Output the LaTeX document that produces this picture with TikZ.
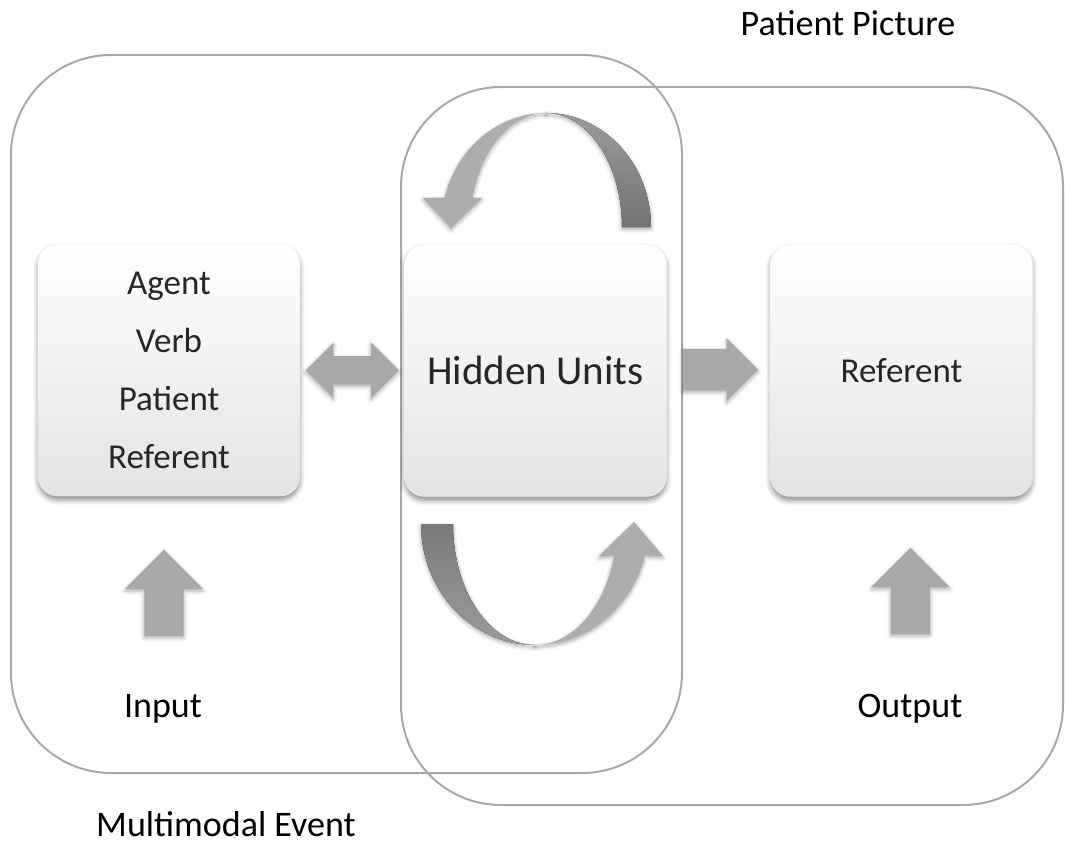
\documentclass[tikz,border=0pt]{standalone}
\usepackage{fontspec}
\setmainfont{Carlito}
\usetikzlibrary{shapes.arrows,shadows.blur,calc}

\begin{document}
\begin{tikzpicture}[x=1pt,y=-1pt,
        unit/.style={rounded corners=20pt, minimum width=262pt, minimum height=252pt,
            inner sep=0pt, align=center, text=black!85, draw=gray!12,
            top color=white, middle color=white, bottom color=gray!22,
            font=\fontsize{35}{58}\selectfont,
            blur shadow={shadow xshift=0pt, shadow yshift=-4pt, shadow blur radius=5pt, shadow opacity=45}},
        frame/.style={draw=gray!68, line width=2pt, rounded corners=100pt},
        fat/.style={fill=gray!68, draw=none,
            blur shadow={shadow xshift=0pt, shadow yshift=-2pt, shadow blur radius=4pt, shadow opacity=35}},
        loopband/.style={draw=none,
            blur shadow={shadow xshift=0pt, shadow yshift=-2pt, shadow blur radius=4pt, shadow opacity=35}},
        caption/.style={anchor=base, inner sep=0pt, font=\fontsize{36}{43}\selectfont},
    ]
    \useasboundingbox (0,0) rectangle (1065,845);

    % the two groups
    \draw[frame] (11,55) rectangle (682,773);
    \draw[frame] (401,87) rectangle (1063,805);

    % boxes
    \node[unit] (words) at (169,370) {Agent\\Verb\\Patient\\Referent};
    \node[unit, font=\fontsize{41}{50}\selectfont] (hidden) at (535.5,370.5) {Hidden Units};
    \node[unit] (referent) at (901.5,370.5) {Referent};

    % block arrows between the boxes
    \node[fat, double arrow, inner sep=14pt, double arrow head extend=13.5pt,
        minimum height=93pt] (link) at ($(words.east)!0.5!(hidden.west)$) {};
    \node[fat, single arrow, inner sep=20.5pt, single arrow head extend=10.5pt,
        minimum height=75pt, anchor=tail] (send) at ($(hidden.east)+(16,-1)$) {};

    % input and output
    \node[fat, single arrow, inner sep=19.5pt, single arrow head extend=19.5pt,
        minimum height=86pt, shape border rotate=90, anchor=tail] (inarrow) at (164,636) {};
    \node[fat, single arrow, inner sep=19.5pt, single arrow head extend=19.5pt,
        minimum height=86pt, shape border rotate=90, anchor=tail] (outarrow) at (910.5,634) {};

    % recurrent loop, top
    \fill[loopband, top color=gray!78, bottom color=black!55]
        (651,227) arc[start angle=0, end angle=-90, x radius=105, y radius=114]
        arc[start angle=-90, end angle=0, x radius=76, y radius=114] -- cycle;
    \fill[loopband, fill=gray!64]
        (546,113) arc[start angle=-90, end angle=-165, x radius=105, y radius=114]
        -- (423,198) -- (451,228) -- (482,198) -- (472.6,197.5)
        arc[start angle=-165, end angle=-90, x radius=76, y radius=114] -- cycle;

    % recurrent loop, bottom
    \fill[loopband, top color=black!52, bottom color=gray!78]
        (421,524) arc[start angle=180, end angle=90, x radius=114, y radius=121]
        arc[start angle=90, end angle=180, x radius=82, y radius=121] -- cycle;
    \fill[loopband, fill=gray!64]
        (535,645) arc[start angle=90, end angle=15, x radius=114, y radius=121]
        -- (663,556) -- (634,522) -- (599,556) -- (614.2,555.3)
        arc[start angle=15, end angle=90, x radius=82, y radius=121] -- cycle;

    % labels
    \node[caption] (input) at (163,717) {Input};
    \node[caption] (output) at (910,717) {Output};
    \node[caption] (event) at (226,836) {Multimodal Event};
    \node[caption] (picture) at (848,36) {Patient Picture};
\end{tikzpicture}
\end{document}
